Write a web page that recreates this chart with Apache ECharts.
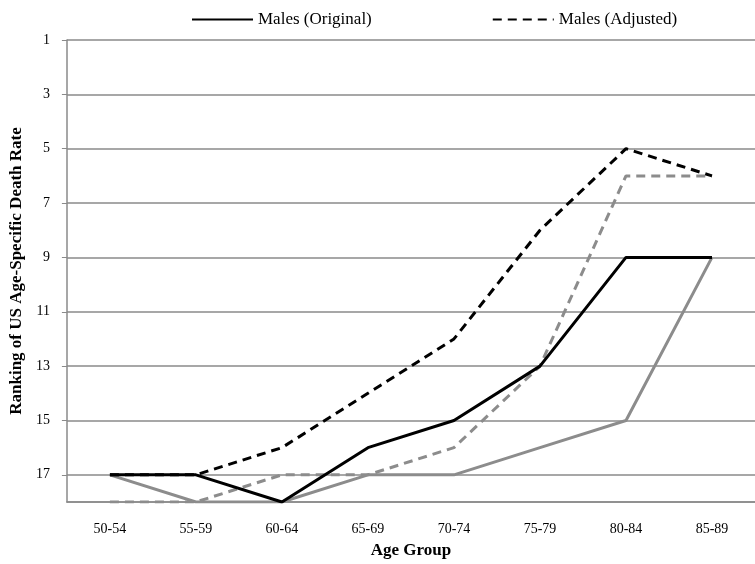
<!DOCTYPE html>
<html><head><meta charset="utf-8">
<script src="https://cdn.jsdelivr.net/npm/echarts@6/dist/echarts.min.js"></script>
<style>html,body{margin:0;padding:0;background:#fff}#c{width:755px;height:564px}</style>
</head><body><div id="c"></div>
<script>
const categories = ['50-54','55-59','60-64','65-69','70-74','75-79','80-84','85-89'];
const malesOriginal = [17, 17, 18, 16, 15, 13, 9, 9];
const malesAdjusted = [17, 17, 16, 14, 12, 8, 5, 6];
const femalesOriginal = [17, 18, 18, 17, 17, 16, 15, 9];
const femalesAdjusted = [18, 18, 17, 17, 16, 13, 6, 6];

const font = '"Liberation Serif", "Times New Roman", serif';
const chart = echarts.init(document.getElementById('c'));
function s(name, data, color, type, z) {
  return { name, type: 'line', data, symbol: 'none', showSymbol: false, z,
    lineStyle: { color, width: 3, type }, itemStyle: { color }, animation: false };
}
chart.setOption({
  animation: false,
  textStyle: { fontFamily: font },
  legend: {
    data: ['Males (Original)', 'Males (Adjusted)'],
    top: 6, left: 186, itemWidth: 61, itemHeight: 16, itemGap: 120,
    itemStyle: { opacity: 0 },
    textStyle: { fontFamily: font, fontSize: 17, color: '#000', padding: [0, 0, 0, 0] }
  },
  grid: { left: 64, top: 40, width: 699, height: 463 },
  xAxis: {
    type: 'category', data: categories, boundaryGap: true,
    name: 'Age Group', nameLocation: 'middle', nameGap: 40,
    nameTextStyle: { fontFamily: font, fontSize: 17, fontWeight: 'bold', color: '#000' },
    axisLine: { lineStyle: { color: '#8a8a8a', width: 1.5 } },
    axisTick: { length: 5, lineStyle: { color: '#8a8a8a' } },
    axisLabel: { fontFamily: font, fontSize: 14, color: '#000', margin: 20 }
  },
  yAxis: {
    type: 'value', inverse: true, min: 1, max: 18, interval: 2,
    name: 'Ranking of US Age-Specific Death Rate', nameLocation: 'middle', nameGap: 32,
    nameTextStyle: { fontFamily: font, fontSize: 17, fontWeight: 'bold', color: '#000' },
    axisLine: { show: true, lineStyle: { color: '#8a8a8a', width: 1.5 } },
    axisTick: { show: true, length: 5, lineStyle: { color: '#8a8a8a' } },
    axisLabel: { fontFamily: font, fontSize: 14, color: '#000', margin: 17, showMaxLabel: false },
    splitLine: { lineStyle: { color: '#8a8a8a', width: 1.5 } }
  },
  series: [
    s('Females (Original)', femalesOriginal, '#8c8c8c', 'solid', 2),
    s('Females (Adjusted)', femalesAdjusted, '#8c8c8c', [9, 6], 2),
    s('Males (Adjusted)', malesAdjusted, '#000', [9, 6], 3),
    s('Males (Original)', malesOriginal, '#000', 'solid', 4)
  ]
});
</script></body></html>
